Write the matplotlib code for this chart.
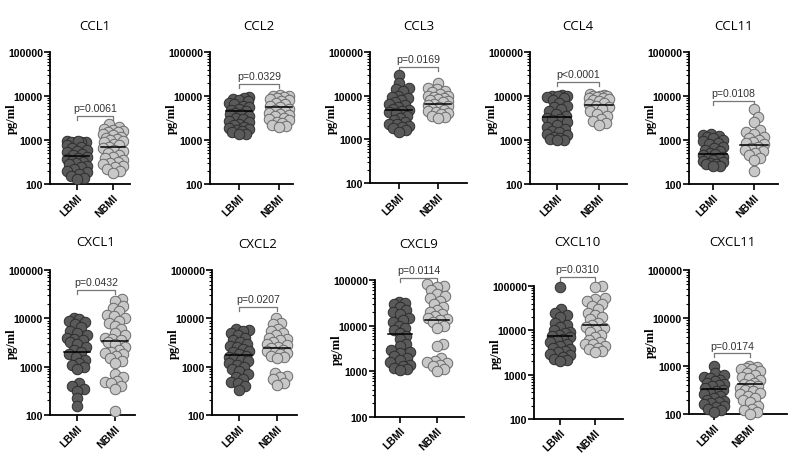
import numpy as np
import matplotlib
matplotlib.use('Agg')
import matplotlib.pyplot as plt
from matplotlib.ticker import FixedLocator, LogLocator, NullFormatter

W, H = 800, 456

names = ['CCL1', 'CCL2', 'CCL3', 'CCL4', 'CCL11',
         'CXCL1', 'CXCL2', 'CXCL9', 'CXCL10', 'CXCL11']
groups = ['LBMI', 'NBMI']

lbmi = [
    [940, 900, 880, 920, 900, 950, 750, 700, 650, 600, 550, 520, 480, 450, 420,
     400, 370, 340, 320, 300, 280, 260, 240, 220, 200, 190, 170, 150, 140, 130],
    [9500, 9000, 8500, 8000, 7500, 7000, 6500, 6000, 5500, 5000, 4800, 4500, 4200,
     4000, 3800, 3500, 3200, 3000, 2700, 2500, 2300, 2200, 2000, 1900, 1800, 1700,
     1600, 1500, 1400, 1350],
    [30000, 20000, 15000, 14000, 13000, 10000, 9500, 9000, 8000, 7000, 6500, 6000,
     5500, 5000, 4800, 4500, 4200, 4000, 3500, 3000, 2800, 2500, 2300, 2200, 2000,
     1900, 1800, 1600, 1500],
    [10500, 10000, 10000, 9800, 9500, 9000, 8000, 7000, 6000, 5500, 5000, 4500, 4000,
     3500, 3200, 3000, 2800, 2500, 2200, 2000, 1800, 1600, 1500, 1400, 1300, 1200,
     1100, 1050, 1000, 1000],
    [1400, 1300, 1250, 1200, 1100, 1000, 950, 850, 800, 700, 650, 600, 550, 500, 480,
     450, 420, 400, 380, 360, 340, 320, 300, 290, 280, 260, 250],
    [10000, 9500, 9000, 8500, 7500, 6500, 5500, 5000, 4500, 4000, 3700, 3500, 3200,
     3000, 2500, 2200, 2000, 1800, 1600, 1400, 1200, 1100, 1000, 900, 450, 400, 350,
     320, 220, 150],
    [6000, 5800, 5500, 5000, 4500, 4000, 3600, 3300, 3000, 2700, 2500, 2300, 2100,
     2000, 1800, 1700, 1600, 1500, 1400, 1300, 1200, 1100, 1000, 900, 800, 700, 600,
     550, 480, 450, 400, 330],
    [33000, 32000, 30000, 25000, 22000, 20000, 18000, 15000, 13000, 12000, 10000,
     9000, 8000, 7000, 6000, 5000, 4000, 3500, 3000, 2700, 2500, 2200, 2000, 1800,
     1600, 1400, 1300, 1200, 1100, 1050],
    [95000, 30000, 25000, 22000, 20000, 15000, 13000, 12000, 10000, 9000, 8500, 8000,
     7500, 7000, 6500, 6000, 5500, 5000, 4500, 4000, 3700, 3500, 3200, 3000, 2800,
     2500, 2300, 2100, 2000],
    [1000, 700, 650, 600, 550, 500, 480, 450, 420, 400, 380, 350, 320, 300, 280, 260,
     240, 220, 200, 190, 180, 170, 160, 150, 140, 130, 120, 110],
]

nbmi = [
    [2300, 2000, 1800, 1700, 1600, 1550, 1500, 1400, 1300, 1200, 1100, 1050, 1000,
     950, 900, 800, 750, 700, 650, 600, 550, 500, 450, 420, 380, 350, 320, 300, 280,
     260, 240, 220, 200, 180],
    [10500, 10000, 10000, 9500, 9000, 8500, 8000, 7500, 7000, 6500, 6000, 5500, 5000,
     4800, 4500, 4200, 4000, 3700, 3500, 3200, 3000, 2800, 2600, 2400, 2200, 2100, 2000],
    [20000, 15000, 14000, 13000, 12000, 11000, 10000, 10000, 9500, 9000, 8500, 8000,
     7500, 7000, 6500, 6000, 5800, 5500, 5000, 4800, 4500, 4200, 4000, 3800, 3500,
     3200, 3000],
    [11000, 10500, 10000, 10000, 9800, 9500, 9200, 9000, 8500, 8000, 7500, 7000, 6500,
     6000, 5500, 5000, 4500, 4000, 3500, 3000, 2700, 2400, 2200],
    [5000, 3300, 2500, 1700, 1500, 1400, 1200, 1100, 1000, 900, 850, 800, 700, 650,
     600, 550, 500, 450, 400, 350, 200],
    [25000, 23000, 18000, 16000, 14000, 12000, 11000, 10000, 9000, 8000, 7000, 6000,
     5000, 4500, 4000, 3700, 3500, 3200, 3000, 2500, 2200, 2000, 1900, 1800, 1700,
     1500, 1300, 1200, 700, 600, 500, 480, 450, 400, 350, 120],
    [10000, 8000, 7500, 6000, 5500, 5000, 4500, 4000, 3800, 3500, 3200, 3000, 2800,
     2600, 2400, 2200, 2100, 2000, 1900, 1800, 1700, 1600, 1500, 750, 650, 600, 550,
     450, 420],
    [80000, 75000, 70000, 60000, 50000, 45000, 40000, 35000, 30000, 25000, 22000,
     20000, 18000, 16000, 15000, 14000, 13000, 12000, 10000, 9000, 4000, 3500, 2000,
     1700, 1600, 1500, 1400, 1300, 1100, 1000],
    [100000, 95000, 55000, 50000, 45000, 40000, 35000, 30000, 25000, 22000, 20000,
     18000, 15000, 13000, 12000, 11000, 10000, 9000, 8000, 7000, 6000, 5500, 5000,
     4800, 4500, 4000, 3800, 3500, 3300],
    [1000, 950, 900, 880, 850, 800, 700, 650, 600, 550, 500, 450, 420, 400, 380, 350,
     320, 300, 280, 260, 240, 220, 200, 180, 150, 130, 120, 110, 100],
]

mean_lbmi = [440, 4500, 4800, 3300, 480, 2000, 1750, 6500, 7600, 330]
mean_nbmi = [700, 5700, 6300, 6300, 780, 3400, 2400, 13000, 13000, 420]
pvals = ['p=0.0061', 'p=0.0329', 'p=0.0169', 'p<0.0001', 'p=0.0108',
         'p=0.0432', 'p=0.0207', 'p=0.0114', 'p=0.0310', 'p=0.0174']
bracket_y = [3550, 18700, 45000, 21000, 7800, 39000, 17400, 112000, 160000, 1830]

# panel layout in pixels: left, top, bottom, width, group0 offset, group spacing
layout = [
    (50, 53, 185, 80, 27, 36), (210, 53, 185, 83, 29, 40), (370, 53, 184, 97, 29, 39),
    (530, 53, 185, 97, 27, 42), (689, 53, 185, 89, 24, 41),
    (50, 271, 416, 85, 27, 38), (212, 271, 416, 85, 27, 38), (375, 281, 418, 89, 25, 37),
    (534, 287, 420, 89, 26, 35), (689, 271, 415, 98, 25, 36),
]
title_y = [27, 27, 27, 27, 27, 243, 245, 245, 243, 243]

face = ['#5a5a5a', '#c8c8c8']
edge = ['#2e2e2e', '#6a6a6a']
D = 10.5  # marker diameter in px


def swarm(ypix, mind, maxw):
    order = np.argsort(ypix)
    xs = np.zeros(len(ypix))
    placed = []
    c = np.arange(0, maxw + 0.01, 1.0)
    cands = []
    for v in c:
        cands += [v, -v] if v > 0 else [0.0]
    for i in order:
        best, bestgap = 0.0, -1.0
        for cx in cands:
            if placed:
                gap = min(np.hypot(cx - xs[j], ypix[i] - ypix[j]) for j in placed)
            else:
                gap = 1e9
            if gap >= mind:
                best = cx
                break
            if gap > bestgap:
                bestgap, best = gap, cx
        xs[i] = best
        placed.append(i)
    return xs


fig = plt.figure(figsize=(W / 100, H / 100), dpi=100)
tickfont = dict(family=['Liberation Sans', 'DejaVu Sans'], weight='bold', size=7.6)

for k, name in enumerate(names):
    left, top, bot, wid, x0, dx = layout[k]
    ax = fig.add_axes([left / W, 1 - bot / H, wid / W, (bot - top) / H])
    ax.set_yscale('log')
    ax.set_ylim(100, 100000)
    ax.set_xlim(-x0 / dx, (wid - x0) / dx)
    for sp in ['top', 'right']:
        ax.spines[sp].set_visible(False)
    for sp in ['left', 'bottom']:
        ax.spines[sp].set_linewidth(1.3)

    for g, vals in enumerate([lbmi[k], nbmi[k]]):
        vals = np.array(vals, dtype=float)
        ypix = ax.transData.transform(np.column_stack([np.zeros(len(vals)), vals]))[:, 1]
        xoff = swarm(ypix, 0.62 * D, 10) / dx
        ax.scatter(g + xoff, vals, s=(D * 0.72) ** 2, c=face[g], edgecolors=edge[g],
                   linewidths=0.7, zorder=3, clip_on=False)
        m = [mean_lbmi, mean_nbmi][g][k]
        ax.plot([g - 0.33, g + 0.33], [m, m], color='black', lw=1.1, zorder=4)

    # significance bracket
    by = bracket_y[k]
    ytick = by / 10 ** (4.0 * 3 / (bot - top))
    ax.plot([0, 0, 1, 1], [ytick, by, by, ytick], color='#777777', lw=0.9,
            clip_on=False, zorder=2)
    ax.annotate(pvals[k], (0.5, by), xytext=(0, 2), textcoords='offset points',
                ha='center', va='bottom', fontsize=7.6, color='#333333',
                family=['Liberation Sans', 'DejaVu Sans'], annotation_clip=False)

    ax.yaxis.set_major_locator(FixedLocator([100, 1000, 10000, 100000]))
    ax.yaxis.set_minor_locator(LogLocator(base=10, subs=np.arange(2, 10)))
    ax.yaxis.set_minor_formatter(NullFormatter())
    ax.set_yticklabels(['100', '1000', '10000', '100000'], fontdict=tickfont)
    ax.tick_params(axis='y', which='major', length=4, width=1.2, pad=1)
    ax.tick_params(axis='y', which='minor', length=2, width=0.8)
    ax.set_xticks([0, 1])
    ax.set_xticklabels(groups, fontdict=tickfont, rotation=45, ha='right',
                       rotation_mode='anchor')
    ax.tick_params(axis='x', length=4, width=1.2, pad=2)

    ax.set_ylabel('pg/ml', family=['Liberation Serif', 'DejaVu Serif'],
                  weight='bold', fontsize=9)
    ax.yaxis.set_label_coords(-32 / wid, 0.5)

    fig.text((left + x0 + dx / 2) / W, 1 - title_y[k] / H, name, ha='center',
             va='center', fontsize=9.5, family=['Open Sans', 'DejaVu Sans'])

fig.savefig('out.png', dpi=100)
